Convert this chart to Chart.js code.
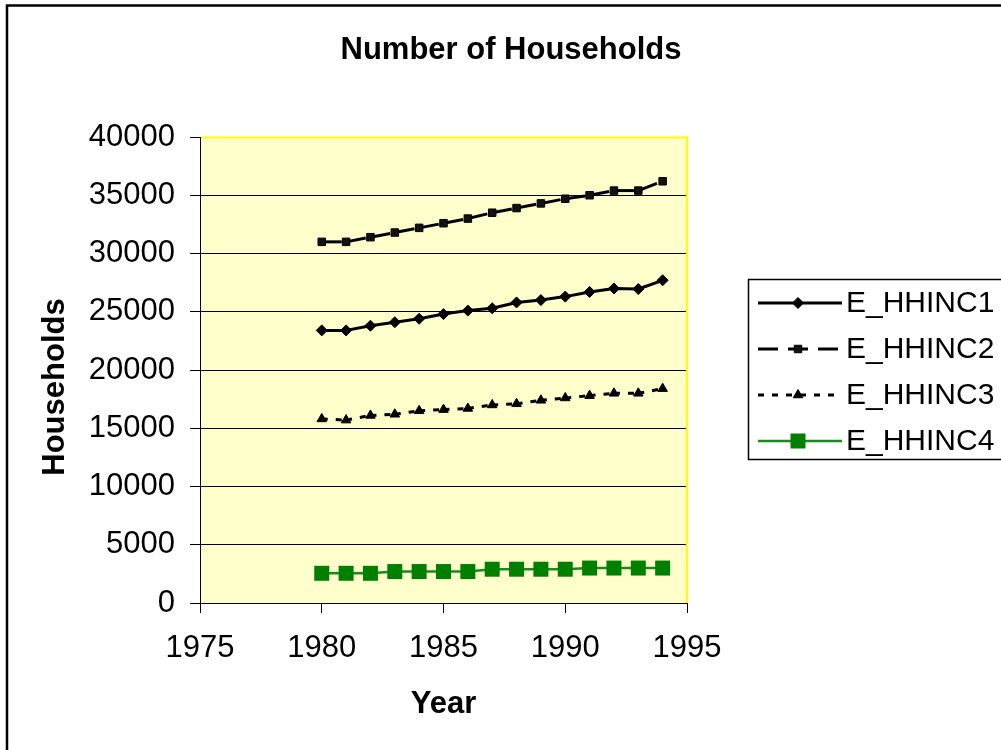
<!DOCTYPE html>
<html>
<head>
<meta charset="utf-8">
<title>Number of Households</title>
<script src="https://cdn.jsdelivr.net/npm/chart.js@4/dist/chart.umd.min.js"></script>
<style>
  html, body { margin: 0; padding: 0; background: #fff; }
  canvas { display: block; }
</style>
</head>
<body>
<canvas id="chart" width="1001" height="750"></canvas>
<script>
// Households per income group, 1980-1994
const years = [1980, 1981, 1982, 1983, 1984, 1985, 1986, 1987, 1988, 1989, 1990, 1991, 1992, 1993, 1994];
const hhinc1 = [23400, 23400, 23800, 24100, 24400, 24800, 25100, 25300, 25800, 26000, 26300, 26700, 27000, 26950, 27700];
const hhinc2 = [31000, 31000, 31400, 31800, 32200, 32600, 33000, 33500, 33900, 34300, 34700, 35000, 35400, 35400, 36200];
const hhinc3 = [15800, 15700, 16100, 16200, 16500, 16600, 16700, 17000, 17100, 17400, 17600, 17800, 18000, 18000, 18400];
const hhinc4 = [2550, 2550, 2550, 2700, 2700, 2700, 2700, 2900, 2900, 2900, 2900, 3000, 3000, 3000, 3000];
const seriesNames = ['E_HHINC1', 'E_HHINC2', 'E_HHINC3', 'E_HHINC4'];

const xMin = 1975, xMax = 1995, xStep = 5;
const yMin = 0, yMax = 40000, yStep = 5000;

const FONT = "'Liberation Sans', Arial, Helvetica, sans-serif";

const toPoints = vals => vals.map((v, i) => ({ x: years[i], y: v }));

// restart the dash pattern at every data point (each segment stroked on its own)
const restartDash = { borderDashOffset: ctx => (ctx.p0DataIndex % 2) * 0.01 };

const datasets = [
  {
    label: seriesNames[0], data: toPoints(hhinc1),
    borderColor: '#000', backgroundColor: '#000', borderWidth: 3,
    pointStyle: 'rectRot', pointRadius: 5.5, pointBorderWidth: 1,
    pointBackgroundColor: '#000', pointBorderColor: '#000'
  },
  {
    label: seriesNames[1], data: toPoints(hhinc2),
    borderColor: '#000', backgroundColor: '#000', borderWidth: 3, borderDash: [20, 10],
    segment: restartDash,
    pointStyle: 'rect', pointRadius: 5.3, pointBorderWidth: 1,
    pointBackgroundColor: '#111', pointBorderColor: '#000'
  },
  {
    label: seriesNames[2], data: toPoints(hhinc3),
    borderColor: '#000', backgroundColor: '#000', borderWidth: 3, borderDash: [6, 8],
    segment: restartDash,
    pointStyle: 'triangle', pointRadius: 5.5, pointBorderWidth: 1,
    pointBackgroundColor: '#000', pointBorderColor: '#000'
  },
  {
    label: seriesNames[3], data: toPoints(hhinc4),
    borderColor: '#1a8a1a', backgroundColor: '#008000', borderWidth: 2.5,
    pointStyle: 'rect', pointRadius: 10.6, pointBorderWidth: 0,
    pointBackgroundColor: '#008000', pointBorderColor: '#008000'
  }
];

function drawMarker(ctx, ds, x, y) {
  ctx.save();
  ctx.fillStyle = ds.pointBackgroundColor;
  ctx.strokeStyle = ds.pointBorderColor;
  ctx.lineWidth = ds.pointBorderWidth;
  Chart.helpers.drawPoint(ctx, {
    pointStyle: ds.pointStyle, radius: ds.pointRadius,
    borderWidth: ds.pointBorderWidth, rotation: 0
  }, x, y);
  ctx.restore();
}

const decor = {
  id: 'decor',
  beforeDraw(chart) {
    const { ctx, chartArea: a } = chart;
    ctx.save();
    ctx.fillStyle = '#fff';
    ctx.fillRect(0, 0, chart.width, chart.height);
    ctx.fillStyle = '#FFFFCC';
    ctx.fillRect(a.left, a.top, a.right - a.left, a.bottom - a.top);
    ctx.restore();
  },
  afterDatasetsDraw(chart) {
    const { ctx, chartArea: a } = chart;
    ctx.save();
    ctx.strokeStyle = '#FFFF00';
    ctx.lineWidth = 2;
    ctx.beginPath();
    ctx.moveTo(a.left + 1, a.top + 0.5);
    ctx.lineTo(a.right, a.top + 0.5);
    ctx.lineTo(a.right, a.bottom);
    ctx.stroke();
    ctx.restore();
  },
  afterDraw(chart) {
    const { ctx, chartArea: a } = chart;
    ctx.save();

    // chart title
    ctx.fillStyle = '#000';
    ctx.font = 'bold 31px ' + FONT;
    ctx.textAlign = 'center';
    ctx.textBaseline = 'middle';
    ctx.fillText('Number of Households', 511, 50);

    // value axis title
    ctx.save();
    ctx.translate(55, 387);
    ctx.rotate(-Math.PI / 2);
    ctx.fillText('Households', 0, 0);
    ctx.restore();

    // legend
    const lx = 748, ly = 279, lw = 300, lh = 180;
    ctx.strokeStyle = '#000';
    ctx.lineWidth = 1.5;
    ctx.strokeRect(lx + 0.5, ly + 0.5, lw, lh);
    ctx.font = '30px ' + FONT;
    ctx.textAlign = 'left';
    chart.data.datasets.forEach((ds, i) => {
      const y = 303 + 46 * i;
      ctx.save();
      ctx.strokeStyle = ds.borderColor;
      ctx.lineWidth = ds.borderWidth;
      ctx.setLineDash(ds.borderDash || []);
      ctx.beginPath();
      ctx.moveTo(758, y);
      ctx.lineTo(842, y);
      ctx.stroke();
      ctx.restore();
      drawMarker(ctx, ds, 798, y);
      ctx.fillStyle = '#000';
      ctx.fillText(ds.label, 846, y + 1);
    });

    // outer chart frame
    ctx.strokeStyle = '#000';
    ctx.lineWidth = 2.5;
    ctx.strokeRect(7, 5.5, 1100, 900);
    ctx.restore();
  }
};

new Chart(document.getElementById('chart'), {
  type: 'line',
  data: { datasets },
  plugins: [decor],
  options: {
    responsive: false,
    devicePixelRatio: 1,
    animation: false,
    layout: { padding: { top: 137, right: 314, left: 0, bottom: 0 } },
    plugins: {
      legend: { display: false },
      title: { display: false },
      tooltip: { enabled: false }
    },
    elements: { line: { tension: 0, borderJoinStyle: 'round', borderCapStyle: 'butt' } },
    scales: {
      x: {
        type: 'linear', min: xMin, max: xMax,
        afterFit: s => { s.height = 147; },
        ticks: {
          stepSize: xStep, maxRotation: 0, autoSkip: false, padding: 17,
          color: '#000', font: { family: FONT, size: 31 },
          callback: v => String(v)
        },
        grid: { drawOnChartArea: false, drawTicks: true, tickLength: 10, tickColor: '#000', lineWidth: 1 },
        border: { display: true, color: '#000', width: 1 },
        title: {
          display: true, text: 'Year', color: '#000',
          font: { family: FONT, size: 31, weight: 'bold' },
          padding: { top: 0, bottom: 27 }
        }
      },
      y: {
        min: yMin, max: yMax,
        afterFit: s => { s.width = 200; },
        ticks: {
          stepSize: yStep, padding: 15,
          color: '#000', font: { family: FONT, size: 31 },
          callback: v => String(v)
        },
        grid: {
          drawOnChartArea: true, drawTicks: true, tickLength: 10, lineWidth: 1,
          color: ctx => (ctx.tick && ctx.tick.value === yMax) ? 'rgba(0,0,0,0)' : '#000',
          tickColor: '#000'
        },
        border: { display: true, color: '#000', width: 1 }
      }
    }
  }
});
</script>
</body>
</html>
